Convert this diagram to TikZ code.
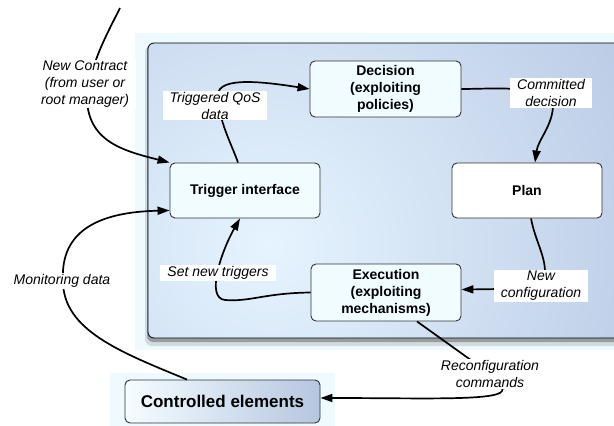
\documentclass[tikz,border=0pt]{standalone}
\usepackage{fontspec}
\setmainfont{Liberation Sans}
\usetikzlibrary{arrows.meta}
\definecolor{boxfill}{HTML}{F0FCFF}
\definecolor{panelout}{HTML}{AFC0DE}
\definecolor{panelin}{HTML}{E6F4FF}
\definecolor{halo}{HTML}{EEFAFF}
\definecolor{ctrlright}{HTML}{B6C6E0}
\definecolor{edge}{HTML}{333333}
\tikzset{
  stepbox/.style={draw=edge, line width=0.9pt, rounded corners=5pt, fill=boxfill,
    align=center, font=\bfseries\fontsize{14}{17}\selectfont, inner sep=2pt},
  lbl/.style={fill=white, align=center, font=\itshape\fontsize{14}{17}\selectfont,
    inner xsep=7pt, inner ysep=1pt},
  conn/.style={line width=1.7pt, -{Triangle[length=12pt,width=8pt]}},
  plain/.style={line width=1.7pt}
}
\begin{document}
\begin{tikzpicture}[x=1pt,y=-1pt]
\useasboundingbox (0,0) rectangle (614,426);
\fill[white] (0,0) rectangle (614,426);
% halos
\fill[halo] (135,33) rectangle (614,350);
\fill[halo] (110,373) rectangle (335,426);
% panel shadow
\fill[black, opacity=0.12, rounded corners=7pt] (145,45) rectangle (650,346);
\fill[black, opacity=0.28, rounded corners=6pt] (147,44) rectangle (650,342);
% panel
\begin{scope}
  \clip[rounded corners=6pt] (148,43) rectangle (650,338);
  \shade[inner color=panelin, outer color=panelout] (270,245) circle (520);
\end{scope}
\draw[black, line width=0.8pt, rounded corners=6pt] (148,43) rectangle (650,338);

% nodes
\node[stepbox, minimum width=150pt, minimum height=55pt] (trig) at (245,190.5) {Trigger interface};
\node[stepbox, minimum width=151pt, minimum height=56pt] (dec) at (385.5,89) {Decision\\(exploiting\\policies)};
\node[stepbox, fill=white, minimum width=150pt, minimum height=55pt] (plan) at (527,190.5) {Plan};
\node[stepbox, minimum width=150pt, minimum height=57pt] (exec) at (386,292.5) {Execution\\(exploiting\\mechanisms)};
\node[stepbox, left color=boxfill!70!white, right color=ctrlright, minimum width=195pt, minimum height=43pt,
  font=\bfseries\fontsize{17}{20}\selectfont] (ctrl) at (222.5,401.5) {Controlled elements};

% connectors
\coordinate (ncstart) at (120,8);
\draw[conn] (ncstart) .. controls (108,32) and (95,55) .. (87,90) .. controls (84,140) and (120,150) .. (trig.north west);
\node[lbl] (ncl) at (85,84) {New Contract\\(from user or\\root manager)};

\draw[conn] ([xshift=-35.5pt]ctrl.north) .. controls (120,352) and (63,330) .. (63,281)
  .. controls (60,230) and (100,212) .. ([yshift=8pt]trig.south west);
\node[lbl, inner xsep=1pt] (mon) at (62,281) {Monitoring data};

\draw[conn] ([xshift=-7pt]trig.north) .. controls (232,145) and (218,120) .. (218,95)
  .. controls (218,76) and (265,82) .. (dec.west);
\node[lbl] (qos) at (215,105.5) {Triggered QoS\\data};

\draw[conn] (dec.east) .. controls (490,89) and (553,84) .. (553,105)
  .. controls (553,125) and (538,140) .. ([xshift=8pt]plan.north);
\node[lbl] (com) at (551,93) {Committed\\decision};

\draw[conn] ([xshift=4pt]plan.south) .. controls (535,240) and (545,255) .. (545,272)
  .. controls (545,289) and (510,289) .. ([yshift=3pt]exec.east);
\node[lbl] (newc) at (541,286) {New\\configuration};

\draw[conn] (exec.west) .. controls (265,293) and (250,302) .. (225,300)
  .. controls (205,298) and (222,250) .. ([xshift=-5pt]trig.south);
\node[lbl] (snt) at (218,273) {Set new triggers};

\draw[conn] ([xshift=31pt]exec.south) -- (475,363) .. controls (495,377) and (506,384) .. (502,391)
  .. controls (497,401) and (420,398) .. ([yshift=3.5pt]ctrl.east);
\node[lbl, inner xsep=1pt] (rc) at (490,374) {Reconfiguration\\commands};
\end{tikzpicture}
\end{document}
